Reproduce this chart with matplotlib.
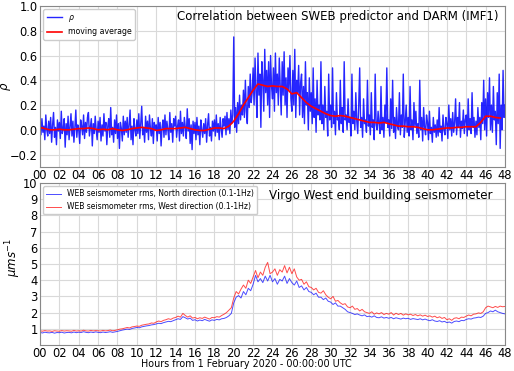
import numpy as np
import matplotlib
matplotlib.use("Agg")
import matplotlib.pyplot as plt

# ---------------- data ----------------
# rho sampled every 0.1 h (one row per hour)
rho_values = [
    0.05, -0.04, 0.09, -0.02, 0.03, -0.08, 0.12, 0.0, -0.05, 0.07,
    -0.03, 0.1, -0.1, 0.04, 0.14, -0.06, 0.02, -0.12, 0.08, -0.01,
    0.06, -0.07, 0.15, -0.03, 0.01, 0.09, -0.14, 0.05, -0.04, 0.11,
    -0.08, 0.03, 0.13, -0.05, 0.07, -0.1, 0.02, 0.16, -0.06, 0.04,
    0.0, -0.11, 0.08, 0.03, -0.04, 0.12, -0.07, 0.06, -0.02, 0.1,
    0.14, -0.05, 0.02, 0.09, -0.13, 0.05, -0.03, 0.11, 0.0, -0.08,
    0.07, -0.02, 0.1, -0.09, 0.04, -0.05, 0.13, -0.01, 0.06, -0.12,
    0.03, 0.09, -0.06, 0.18, -0.04, 0.02, -0.1, 0.08, -0.03, 0.12,
    -0.07, 0.05, -0.15, 0.06, 0.01, -0.09, 0.11, -0.04, 0.07, -0.02,
    0.1, -0.06, 0.04, 0.16, -0.08, 0.03, -0.12, 0.09, 0.0, -0.05,
    0.08, -0.03, 0.13, -0.07, 0.05, 0.19, -0.04, 0.02, -0.1, 0.11,
    -0.02, 0.07, -0.08, 0.12, 0.01, -0.05, 0.09, -0.11, 0.06, 0.0,
    0.04, -0.09, 0.1, -0.03, 0.06, -0.13, 0.02, 0.08, -0.06, 0.12,
    -0.04, 0.07, 0.0, -0.08, 0.14, -0.02, 0.05, -0.1, 0.09, 0.03,
    0.11, -0.06, 0.03, 0.08, -0.09, 0.15, -0.03, 0.06, -0.05, 0.1,
    0.02, -0.07, 0.17, -0.01, 0.09, -0.11, 0.04, -0.16, 0.07, -0.03,
    0.06, -0.08, 0.1, -0.04, 0.03, -0.12, 0.08, 0.0, -0.06, 0.05,
    -0.03, 0.09, -0.1, 0.04, 0.13, -0.05, 0.02, -0.09, 0.07, -0.01,
    0.08, -0.05, 0.12, -0.02, 0.05, -0.08, 0.1, 0.01, -0.06, 0.09,
    0.03, 0.11, -0.04, 0.14, 0.0, 0.09, -0.03, 0.16, 0.05, 0.12,
    0.75, 0.02, 0.18, -0.02, 0.22, 0.05, 0.28, 0.08, 0.2, 0.12,
    0.32, 0.1, 0.4, 0.15, 0.05, 0.35, 0.18, 0.45, 0.22, 0.3,
    0.5, 0.2, 0.58, 0.3, 0.1, 0.62, 0.28, 0.45, 0.02, 0.55,
    0.4, 0.15, 0.65, 0.3, 0.48, 0.2, 0.55, 0.1, 0.6, 0.35,
    0.25, 0.5, 0.15, 0.62, 0.3, 0.45, 0.2, 0.58, 0.35, 0.12,
    0.55, 0.28, 0.63, 0.2, 0.42, 0.1, 0.5, 0.32, 0.6, 0.25,
    0.15, 0.48, 0.2, 0.65, 0.1, 0.4, 0.3, 0.52, 0.12, 0.38,
    0.45, 0.1, 0.35, 0.05, 0.55, 0.2, 0.3, 0.0, 0.42, 0.15,
    0.3, 0.05, 0.5, 0.1, 0.25, -0.02, 0.4, 0.12, 0.2, 0.08,
    0.55, 0.05, 0.2, 0.0, 0.35, 0.1, 0.15, -0.05, 0.45, 0.08,
    0.2, 0.02, 0.5, 0.05, 0.15, -0.04, 0.3, 0.08, 0.1, 0.0,
    0.4, 0.05, 0.18, -0.02, 0.55, 0.08, 0.12, 0.0, 0.25, 0.06,
    0.1, -0.05, 0.45, 0.05, 0.15, 0.0, 0.3, 0.07, -0.03, 0.2,
    0.5, 0.02, 0.1, -0.06, 0.25, 0.05, 0.08, -0.02, 0.4, 0.03,
    0.12, -0.04, 0.3, 0.02, 0.08, -0.08, 0.45, 0.04, 0.0, 0.15,
    0.05, -0.03, 0.35, 0.0, 0.1, -0.06, 0.2, 0.06, 0.5, 0.02,
    0.08, -0.05, 0.25, 0.01, 0.4, -0.02, 0.1, -0.07, 0.18, 0.03,
    0.0, 0.3, -0.04, 0.12, 0.02, 0.45, -0.06, 0.06, 0.2, -0.02,
    0.1, -0.05, 0.35, 0.0, 0.08, -0.08, 0.22, 0.03, 0.15, -0.03,
    0.05, -0.06, 0.4, 0.0, 0.1, -0.09, 0.18, 0.02, -0.04, 0.12,
    0.06, -0.08, 0.15, -0.03, 0.02, -0.1, 0.1, -0.02, 0.04, -0.06,
    0.08, -0.05, 0.18, -0.02, 0.03, -0.09, 0.12, 0.0, -0.04, 0.1,
    0.05, -0.07, 0.2, 0.0, 0.09, -0.05, 0.14, -0.02, 0.06, 0.25,
    -0.04, 0.1, 0.02, 0.22, -0.06, 0.07, 0.01, 0.16, -0.03, 0.08,
    0.12, -0.05, 0.25, 0.0, 0.09, -0.03, 0.3, 0.02, 0.1, -0.06,
    0.07, -0.04, 0.18, 0.02, 0.1, -0.08, 0.22, 0.05, 0.4, 0.0,
    0.25, -0.05, 0.3, 0.1, 0.42, 0.0, 0.2, -0.02, 0.35, 0.08,
    0.15, -0.12, 0.3, 0.05, 0.45, -0.15, 0.2, 0.0, 0.48, 0.1,
    0.2,
]
rho_hours = [i * 0.1 for i in range(len(rho_values))]

# moving average, every 0.5 h
mavg_values = [
    0.02, 0.01, 0.0, 0.0, 0.005, 0.0, 0.0, 0.005, 0.01, 0.01,
    0.015, 0.01, 0.0, 0.005, 0.0, 0.01, 0.0, -0.005, 0.0, 0.01,
    0.015, 0.02, 0.015, 0.01, -0.005, 0.0, 0.01, 0.01, 0.01, 0.015,
    0.02, 0.01, 0.0, -0.005, -0.005, 0.005, 0.015, 0.015, 0.01, 0.03,
    0.07, 0.13, 0.2, 0.26, 0.32, 0.37, 0.36, 0.35, 0.355, 0.35,
    0.35, 0.33, 0.29, 0.3, 0.26, 0.22, 0.19, 0.17, 0.15, 0.13,
    0.115, 0.11, 0.115, 0.11, 0.1, 0.09, 0.08, 0.07, 0.06, 0.06,
    0.055, 0.06, 0.05, 0.04, 0.03, 0.03, 0.025, 0.025, 0.02, 0.01,
    0.0, 0.0, 0.005, 0.01, 0.015, 0.015, 0.02, 0.02, 0.025, 0.025,
    0.025, 0.06, 0.11, 0.11, 0.1, 0.095,
]
mavg_hours = [i * 0.5 for i in range(len(mavg_values))]

# seismometer rms, every 0.25 h
north_values = [
    0.78, 0.74, 0.79, 0.76, 0.75, 0.78, 0.73, 0.77, 0.76, 0.79, 0.74, 0.77,
    0.78, 0.75, 0.8, 0.76, 0.79, 0.77, 0.82, 0.78, 0.76, 0.8, 0.77, 0.81,
    0.78, 0.76, 0.8, 0.77, 0.79, 0.82, 0.78, 0.81, 0.84, 0.88, 0.92, 0.95,
    0.98, 0.96, 1.02, 1.05, 1.08, 1.06, 1.12, 1.15, 1.18, 1.2, 1.24, 1.26,
    1.3, 1.34, 1.32, 1.38, 1.42, 1.46, 1.44, 1.5, 1.56, 1.62, 1.58, 1.75,
    1.68, 1.6, 1.66, 1.52, 1.56, 1.48, 1.54, 1.5, 1.58, 1.52, 1.47, 1.55,
    1.52, 1.58, 1.55, 1.62, 1.64, 1.7, 1.8, 1.95, 2.6, 2.95, 3.05, 2.9,
    3.3, 3.1, 3.5, 3.35, 3.75, 4.3, 3.9, 4.1, 3.85, 4.25, 3.95, 4.3,
    3.9, 4.1, 3.75, 4.05, 3.95, 4.25, 3.8, 4.1, 3.85, 3.7, 3.95, 3.55,
    3.65, 3.4, 3.55, 3.3, 3.25, 3.1, 3.2, 2.95, 2.95, 2.8, 2.9, 2.7,
    2.65, 2.5, 2.6, 2.4, 2.4, 2.3, 2.2, 2.05, 2.0, 1.95, 1.88, 1.92,
    1.85, 1.8, 1.86, 1.75, 1.78, 1.72, 1.8, 1.7, 1.68, 1.74, 1.66, 1.7,
    1.65, 1.7, 1.62, 1.68, 1.64, 1.6, 1.66, 1.62, 1.65, 1.58, 1.63, 1.6,
    1.57, 1.62, 1.55, 1.6, 1.54, 1.5, 1.56, 1.48, 1.45, 1.5, 1.42, 1.46,
    1.38, 1.42, 1.35, 1.45, 1.48, 1.44, 1.52, 1.5, 1.58, 1.62, 1.6, 1.66,
    1.68, 1.72, 1.7, 1.78, 1.95, 2.0, 2.1, 2.05, 2.15, 2.05, 2.0, 1.95,
    1.92,
]
west_values = [
    0.88, 0.85, 0.89, 0.86, 0.87, 0.84, 0.88, 0.86, 0.85, 0.89, 0.86, 0.88,
    0.87, 0.85, 0.9, 0.86, 0.88, 0.86, 0.91, 0.87, 0.86, 0.9, 0.87, 0.89,
    0.88, 0.86, 0.9, 0.87, 0.89, 0.92, 0.88, 0.9, 0.94, 0.98, 1.0, 1.04,
    1.08, 1.05, 1.12, 1.14, 1.17, 1.15, 1.22, 1.25, 1.28, 1.3, 1.36, 1.34,
    1.42, 1.48, 1.44, 1.52, 1.56, 1.62, 1.58, 1.66, 1.7, 1.78, 1.72, 1.95,
    1.82, 1.72, 1.8, 1.66, 1.7, 1.62, 1.68, 1.64, 1.72, 1.66, 1.6, 1.7,
    1.68, 1.75, 1.72, 1.82, 1.9, 2.0, 2.15, 2.3, 2.9, 3.3, 3.15, 3.45,
    3.7, 3.5, 4.0, 3.8, 4.2, 4.6, 4.15, 4.5, 4.3, 4.8, 5.1, 4.4,
    4.5, 4.7, 4.3, 4.65, 4.5, 4.9, 4.45, 4.8, 4.4, 4.7, 4.2, 4.0,
    4.05, 3.75, 3.9, 3.6, 3.55, 3.4, 3.5, 3.25, 3.2, 3.35, 3.1, 2.95,
    2.85, 3.0, 2.7, 2.75, 2.6, 2.5, 2.55, 2.35, 2.3, 2.4, 2.2, 2.25,
    2.1, 2.2, 2.05, 2.0, 1.95, 2.05, 1.9, 1.98, 1.92, 2.0, 1.88, 1.95,
    1.9, 2.0, 1.85, 1.96, 1.88, 1.95, 1.84, 1.92, 1.86, 1.9, 1.82, 1.88,
    1.8, 1.86, 1.78, 1.84, 1.76, 1.8, 1.72, 1.78, 1.68, 1.74, 1.64, 1.7,
    1.56, 1.62, 1.52, 1.65, 1.68, 1.62, 1.72, 1.7, 1.78, 1.85, 1.8, 1.9,
    1.92, 1.98, 1.95, 2.05, 2.3, 2.4, 2.35, 2.3, 2.38, 2.32, 2.4, 2.36,
    2.38,
]
seis_hours = [i * 0.25 for i in range(len(north_values))]

hour_ticks = list(range(0, 49, 2))
hour_labels = ["%02d" % h for h in hour_ticks]

# ---------------- plot ----------------
fig = plt.figure(figsize=(5.14, 3.71), dpi=100)
ax1 = fig.add_axes([0.0778, 0.5499, 0.9047, 0.4340])
ax2 = fig.add_axes([0.0778, 0.0701, 0.9047, 0.4367])

for ax in (ax1, ax2):
    ax.set_xlim(0, 48)
    ax.set_xticks(hour_ticks)
    ax.set_xticklabels(hour_labels)
    ax.grid(True, color="#d9d9d9", linewidth=0.8)
    ax.set_axisbelow(True)
    ax.tick_params(labelsize=8.3, length=0, pad=1.6)
    for s in ax.spines.values():
        s.set_color("#888888")
        s.set_linewidth(0.8)

ax1.plot(rho_hours, rho_values, color="blue", lw=1.0, alpha=0.85, label=r"$\rho$")
ax1.plot(mavg_hours, mavg_values, color="red", lw=1.2, label="moving average")
ax1.set_ylim(-0.3, 1.0)
ax1.set_yticks([-0.2, 0.0, 0.2, 0.4, 0.6, 0.8, 1.0])
ax1.set_yticklabels(["\u22120.2", "0.0", "0.2", "0.4", "0.6", "0.8", "1.0"])
ax1.set_ylabel(r"$\rho$", fontsize=8.5)
ax1.yaxis.set_label_coords(-0.058, 0.5)
ax1.text(0.985, 0.932, "Correlation between SWEB predictor and DARM (IMF1)",
         transform=ax1.transAxes, ha="right", va="center", fontsize=8.5)
ax1.legend(loc="upper left", fontsize=5.6, framealpha=1, edgecolor="#cccccc",
           handlelength=1.95, borderaxespad=0.45)

ax2.plot(seis_hours, north_values, color="blue", lw=0.7, alpha=0.7,
         label="WEB seismometer rms, North direction (0.1-1Hz)")
ax2.plot(seis_hours, west_values, color="red", lw=0.7, alpha=0.7,
         label="WEB seismometer rms, West direction (0.1-1Hz)")
ax2.set_ylim(0, 10)
ax2.set_yticks(range(1, 11))
ax2.set_ylabel(r"$\mu m s^{-1}$", fontsize=8.5)
ax2.yaxis.set_label_coords(-0.036, 0.54)
ax2.text(0.974, 0.922, "Virgo West end building seismometer",
         transform=ax2.transAxes, ha="right", va="center", fontsize=8.6)
ax2.legend(loc="upper left", fontsize=5.5, framealpha=1, edgecolor="#cccccc",
           handlelength=1.95, borderaxespad=0.45)

fig.text(246 / 514, 1 - 364 / 371, "Hours from 1 February 2020 - 00:00:00 UTC",
         ha="center", va="center", fontsize=6.9)

fig.savefig("out.png", dpi=100)
